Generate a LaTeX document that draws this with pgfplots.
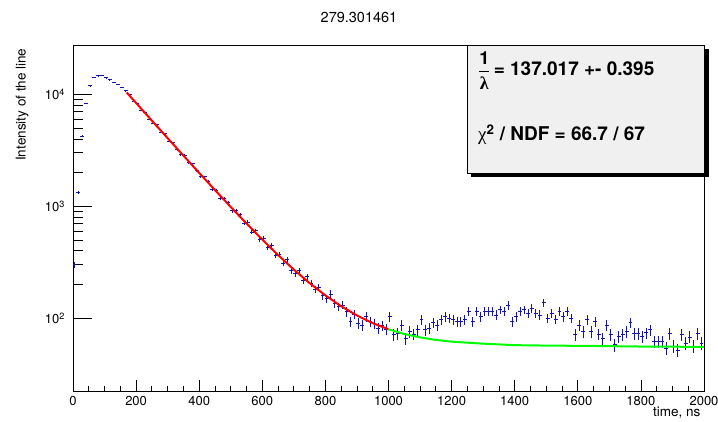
\documentclass[border=0pt]{standalone}
\usepackage{amsmath}
\usepackage{fontspec}
\setmainfont{TeX Gyre Heros}
\newfontfamily\greek{Liberation Serif}
\usepackage{pgfplots}
\pgfplotsset{compat=1.18}
\definecolor{databl}{RGB}{20,20,175}
\definecolor{boxgray}{RGB}{240,240,240}
\definecolor{fitgreen}{RGB}{0,255,0}
\pgfplotstableread{
x y ey
4.5 300 17
17 1330 36
29.5 4250 65
42 8300 91
54.5 11900 109
67 14300 120
79.5 14700 121
92 14750 121
104.5 14100 119
117 13500 116
129.5 12900 114
142 12250 111
154.5 11600 108
167 10750 104
179.5 9900 99
192 8690 94
204.5 8300 90
217 7210 86
229.5 6890 83
242 6020 78
254.5 5530 75
267 5330 72
279.5 4590 68
292 4430 66
304.5 3815 62
317 3700 60
329.5 3190 57
342 2885 54
354.5 2860 53
367 2440 50
379.5 2390 48
392 2070 46
404.5 1830 43
417 1830 42
429.5 1680 40
442 1410 38
454.5 1395 37
467 1180 35
479.5 1170 34
492 1085 33
504.5 910 31
517 910 30
529.5 842 29
542 703 27
554.5 722 26
567 588 25
579.5 605 24
592 505 23
604.5 520 22
617 425 21
629.5 446 21
642 363 19
654.5 375 19
667 311 18
679.5 332 18
692 268 17
704.5 252 16
717 268 16
729.5 216 15
742 236 15
754.5 205 14
767 181 13
779.5 189 14
792 160 13
804.5 150 12
817 164 13
829.5 136 12
842 127 11
854.5 131 11
867 114 11
879.5 93 10
892 109 10
904.5 90 9.5
917 87 9.3
929.5 103 10
942 93 9.6
954.5 89 9.4
967 81 9
979.5 86 9.3
992 80 8.9
1004.5 103 10
1017 71 8.4
1029.5 73 8.5
1042 87 9.3
1054.5 66 8.1
1067 76 8.7
1079.5 72 8.5
1092 79 8.9
1104.5 97 9.8
1117 79 8.9
1129.5 81 9
1142 91 9.5
1154.5 87 9.3
1167 97 9.8
1179.5 103 10
1192 100 10
1204.5 97 9.8
1217 93 9.6
1229.5 93 9.6
1242 97 9.8
1254.5 115 10.7
1267 93 9.6
1279.5 115 10.7
1292 103 10
1304.5 115 10.7
1317 115 10.7
1329.5 115 10.7
1342 107 10.3
1354.5 119 10.9
1367 115 10.7
1379.5 131 11.4
1392 93 9.6
1404.5 103 10
1417 115 10.7
1429.5 119 10.9
1442 111 10.5
1454.5 123 11.1
1467 111 10.5
1479.5 107 10.3
1492 138 11.7
1504.5 100 10
1517 111 10.5
1529.5 98 9.9
1542 115 10.7
1554.5 103 10
1567 115 10.7
1579.5 100 10
1592 71 8.4
1604.5 87 9.3
1617 76 8.7
1629.5 97 9.8
1642 76 8.7
1654.5 93 9.6
1667 72 8.5
1679.5 66 8.1
1692 87 9.3
1704.5 71 8.4
1717 58 7.6
1729.5 69 8.3
1742 71 8.4
1754.5 76 8.7
1767 91 9.5
1779.5 73 8.5
1792 73 8.5
1804.5 69 8.3
1817 74 8.6
1829.5 79 8.9
1842 62 7.9
1854.5 62 7.9
1867 62 7.9
1879.5 54 7.3
1892 73 8.5
1904.5 56 7.5
1917 52 7.2
1929.5 71 8.4
1942 60 7.7
1954.5 68 8.2
1967 56 7.5
1979.5 73 8.5
1992 60 7.7
}\datatable
\begin{document}
\begin{tikzpicture}[x=1pt,y=1pt]
\useasboundingbox (0,0) rectangle (718,422);
\begin{axis}[
  at={(73pt,31pt)}, anchor=south west,
  scale only axis, width=631pt, height=346pt,
  xmin=0, xmax=2000, ymode=log, ymin=22.4, ymax=27600,
  axis line style={line width=0.8pt, black},
  tick align=inside,
  xtick={0,200,...,2000},
  minor x tick num=3,
  ytick={100,1000,10000},
  yticklabels={10\textsuperscript{2},10\textsuperscript{3},10\textsuperscript{4}},
  major tick length=19pt, minor tick length=9.5pt,
  xtick style={/pgfplots/major tick length=11pt,/pgfplots/minor tick length=5.5pt},
  tick style={black, line width=0.8pt},
  xtick pos=bottom, ytick pos=left,
  /pgf/number format/assume math mode=true,
  /pgf/number format/1000 sep={},
  xticklabel style={font=\fontsize{13}{13}\selectfont, yshift=-1.4pt},
  yticklabel style={font=\fontsize{13}{13}\selectfont, xshift=-4.5pt},
]
\addplot[color=databl, draw=none, mark=none,
  error bars/.cd, y dir=both, y explicit, x dir=both, x fixed=6.25,
  error mark=none, error bar style={color=databl, draw=databl, line width=0.9pt}]
  table[x=x, y=y, y error=ey] {\datatable};
\addplot[red, line width=2pt] coordinates {
(170,10405) (200,8372) (250,5826) (300,4061) (350,2838) (400,1987)
(450,1397) (500,986) (550,702) (600,504) (650,367) (700,272)
(750,206) (800,160) (850,128) (900,106) (950,90.4) (1000,79.7)};
\addplot[fitgreen, line width=2pt] coordinates {
(1000,79.7) (1050,72.3) (1100,67.5) (1150,64) (1200,61.8) (1250,60.5)
(1300,59.3) (1400,57.5) (1500,57) (1640,56.6) (1800,55.9) (2000,55.5)};
\end{axis}
\node[rotate=90, anchor=base east, font=\fontsize{13.5}{13.5}\selectfont] at (25.5,377) {Intensity of the line};
\node[anchor=base east, font=\fontsize{13.5}{13.5}\selectfont] at (704,5) {time, ns};
\node[anchor=base, font=\fontsize{14.5}{14.5}\selectfont] at (359,399) {279.301461};
\fill[black] (471,245) rectangle (708.5,373);
\filldraw[fill=boxgray, draw=black, line width=0.8pt] (467,249) rectangle (704.5,377);
\node[anchor=base west, inner sep=0pt, font=\fontsize{19}{19}\selectfont\bfseries] at (478,346.3)
  {$\genfrac{}{}{1.6pt}{0}{\mbox{\fontsize{18}{18}\selectfont\bfseries 1}}{\mbox{\fontsize{18}{18}\selectfont\greek λ}}$\,= 137.017 +- 0.395};
\node[anchor=base west, inner sep=0pt, font=\fontsize{19}{19}\selectfont\bfseries] at (478,281.3)
  {{\greek\mdseries χ}\textsuperscript{2} / NDF = 66.7 / 67};
\end{tikzpicture}
\end{document}
